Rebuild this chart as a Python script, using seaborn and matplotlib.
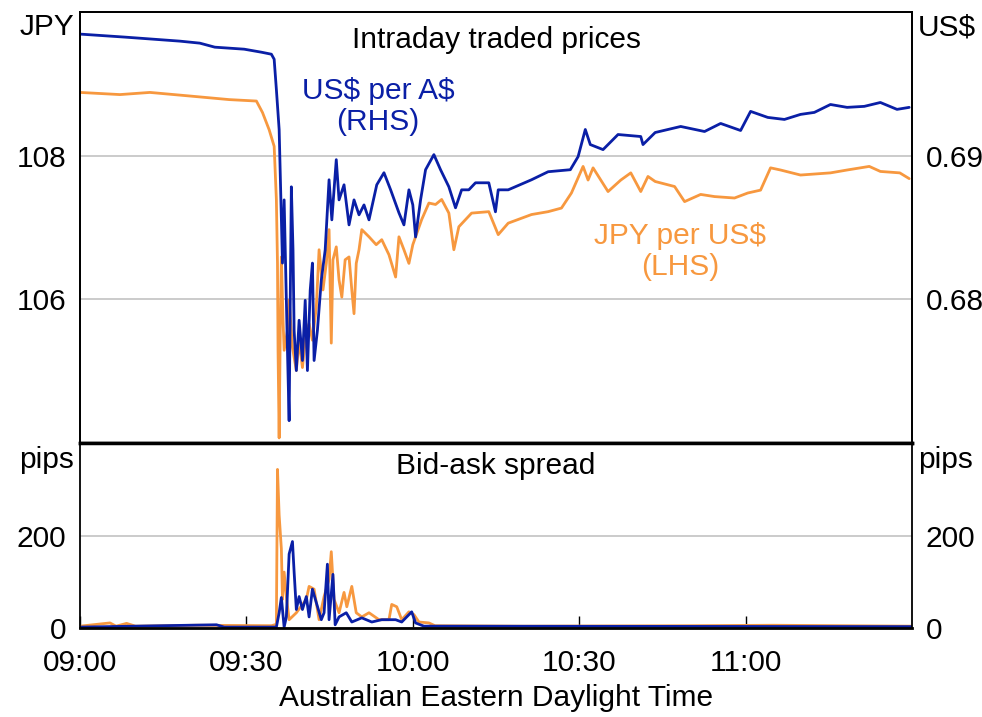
import numpy as np
import pandas as pd
import matplotlib
matplotlib.use("Agg")
import matplotlib.pyplot as plt
import seaborn as sns

# minutes after 09:00 AEDT
aud_t = [0, 8.1, 18.0, 21.6, 24.3, 29.6, 32.7, 34.5, 35.0, 35.4, 35.9, 36.5, 36.8, 37.2,
         37.4, 37.7, 37.9, 38.1, 38.4, 38.6, 39.0, 39.5, 40.1, 40.6, 41.0, 41.5, 41.9,
         42.2, 42.8, 43.5, 44.2, 44.9, 45.4, 46.2, 46.7, 47.6, 48.5, 49.4, 50.3, 51.2,
         52.1, 53.5, 54.8, 56.0, 57.5, 58.4, 59.3, 60.0, 60.5, 61.4, 62.3, 63.8, 65.0,
         66.5, 67.7, 68.8, 70.1, 71.3, 73.7, 74.9, 75.4, 77.2, 81.4, 84.4, 88.4, 89.8,
         91.1, 92.0, 94.3, 97.0, 101.1, 101.5, 103.7, 108.3, 112.6, 115.5, 119.1, 120.9,
         124.0, 127.0, 129.9, 132.4, 135.3, 138.3, 141.4, 144.3, 147.3, 149.5]
aud_usd = [0.69846, 0.69825, 0.69797, 0.69783, 0.69755, 0.69741, 0.69720, 0.69706, 0.69671,
           0.69461, 0.69182, 0.68252, 0.68692, 0.67993, 0.67644, 0.67155, 0.67993, 0.68783,
           0.68343, 0.67784, 0.67504, 0.67854, 0.67574, 0.67993, 0.67504, 0.68063, 0.68252,
           0.67574, 0.67784, 0.68133, 0.68343, 0.68832, 0.68553, 0.68972, 0.68692, 0.68797,
           0.68518, 0.68692, 0.68588, 0.68657, 0.68553, 0.68797, 0.68881, 0.68762, 0.68602,
           0.68518, 0.68762, 0.68657, 0.68434, 0.68692, 0.68902, 0.69007, 0.68902, 0.68783,
           0.68637, 0.68762, 0.68762, 0.68811, 0.68811, 0.68609, 0.68762, 0.68762, 0.68832,
           0.68888, 0.68902, 0.68993, 0.69182, 0.69077, 0.69042, 0.69147, 0.69133, 0.69077,
           0.69161, 0.69203, 0.69168, 0.69224, 0.69175, 0.69308, 0.69266, 0.69252, 0.69287,
           0.69301, 0.69356, 0.69336, 0.69343, 0.69370, 0.69322, 0.69336]

jpy_t = [0, 7.2, 12.6, 19.8, 26.9, 31.8, 32.9, 34.1, 35.0, 35.4, 35.6, 35.7, 35.9, 36.1,
         36.3, 36.6, 36.8, 37.4, 37.7, 38.3, 39.0, 39.5, 40.1, 40.8, 41.3, 41.9, 42.6,
         43.1, 43.8, 44.4, 44.9, 45.3, 45.6, 46.2, 46.7, 47.2, 47.8, 48.5, 49.0, 49.4,
         49.8, 50.3, 50.8, 52.1, 53.4, 54.4, 55.7, 56.9, 57.5, 58.4, 59.3, 60.0, 60.5,
         61.6, 62.9, 64.1, 65.2, 66.5, 67.4, 68.3, 70.6, 73.7, 75.4, 77.2, 81.4, 84.4,
         86.8, 88.6, 90.7, 91.6, 92.5, 95.2, 97.5, 99.3, 101.1, 102.4, 103.7, 107.2,
         109.0, 111.9, 114.4, 118.0, 120.4, 122.7, 124.5, 126.3, 129.9, 135.3, 138.3,
         142.3, 144.3, 147.8, 149.5]
usd_jpy = [108.88, 108.85, 108.88, 108.83, 108.78, 108.76, 108.60, 108.36, 108.13, 107.39,
           106.50, 105.29, 104.07, 105.57, 106.59, 105.71, 105.29, 105.57, 105.99, 105.33,
           105.01, 105.43, 105.05, 105.57, 105.66, 105.43, 105.89, 106.69, 106.13, 106.50,
           106.97, 105.39, 106.55, 106.73, 106.27, 106.03, 106.55, 106.59, 106.13, 105.80,
           106.50, 106.69, 106.97, 106.87, 106.76, 106.83, 106.62, 106.31, 106.87, 106.69,
           106.50, 106.76, 106.87, 107.11, 107.34, 107.32, 107.39, 107.20, 106.69, 107.01,
           107.20, 107.22, 106.90, 107.06, 107.18, 107.22, 107.27, 107.48, 107.85, 107.66,
           107.83, 107.50, 107.66, 107.76, 107.50, 107.71, 107.64, 107.57, 107.36, 107.46,
           107.43, 107.41, 107.48, 107.52, 107.83, 107.80, 107.73, 107.76, 107.80, 107.85,
           107.78, 107.76, 107.68]

jpy_spread_t = [0, 5.4, 6.5, 8.4, 10, 21, 34.5, 35.4, 35.6, 35.9, 36.3, 36.5, 36.8, 37.2,
                37.7, 39.0, 40.8, 41.3, 42.2, 43.1, 44.0, 44.9, 45.3, 45.8, 46.7, 47.6,
                48.1, 49.0, 49.8, 50.8, 52.1, 53.9, 55.7, 56.2, 57.1, 58.0, 59.3, 60.2,
                61.1, 62.9, 64, 80, 110, 125, 150]
jpy_spread = [4, 11, 4, 10, 4, 6, 5, 8, 343, 244, 171, 62, 121, 68, 18, 33, 62, 90, 84, 18,
              68, 105, 165, 62, 33, 77, 46, 90, 33, 24, 33, 18, 18, 51, 46, 18, 35, 29, 13,
              11, 5, 4, 5, 6, 4]

aud_spread_t = [0, 24.6, 26, 35.4, 35.9, 36.3, 36.8, 37.2, 37.7, 38.3, 38.6, 39.0, 39.5,
                40.1, 40.8, 41.3, 41.9, 42.6, 43.5, 44.0, 44.6, 44.9, 45.6, 46.0, 46.7,
                48.0, 49.0, 50.8, 52.6, 54.4, 56.9, 58.0, 59.8, 60.5, 62, 150]
aud_spread = [2, 7, 2, 2, 33, 66, 2, 24, 160, 187, 121, 40, 68, 40, 68, 24, 84, 55, 18, 33,
              138, 18, 116, 7, 24, 33, 13, 22, 13, 18, 18, 13, 35, 11, 4, 3]

x_ticks = [0, 30, 60, 90, 120]
x_labels = ["09:00", "09:30", "10:00", "10:30", "11:00"]

BLUE = "#0A1FA6"
ORANGE = "#F7983F"

sns.set_theme(style="white")
plt.rcParams["font.family"] = ["Liberation Sans", "DejaVu Sans"]
plt.rcParams.update({
    "font.size": 21.5,
    "xtick.labelsize": 21.5,
    "ytick.labelsize": 21.5,
    "text.color": "black",
    "xtick.color": "black",
    "ytick.color": "black",
    "xtick.labelcolor": "black",
    "ytick.labelcolor": "black",
})

fig = plt.figure(figsize=(9.82, 7.17), dpi=100)
ax_top = fig.add_axes([0.0815, 0.3822, 0.8472, 0.6011])
ax_bot = fig.add_axes([0.0815, 0.1241, 0.8472, 0.2580])
ax_rhs = ax_top.twinx()

# top panel
sns.lineplot(x=jpy_t, y=usd_jpy, ax=ax_top, color=ORANGE, linewidth=2.0,
             estimator=None, sort=False)
sns.lineplot(x=aud_t, y=aud_usd, ax=ax_rhs, color=BLUE, linewidth=2.0,
             estimator=None, sort=False)
ax_top.set_ylim(104, 110)
ax_rhs.set_ylim(0.67, 0.70)
ax_top.set_yticks([106, 108])
ax_rhs.set_yticks([0.68, 0.69])
ax_rhs.set_yticklabels(["0.68", "0.69"])
ax_top.yaxis.grid(True, color="#bdbdbd", linewidth=1.1)
ax_top.set_xticks([])

# bottom panel
sns.lineplot(x=jpy_spread_t, y=jpy_spread, ax=ax_bot, color=ORANGE, linewidth=2.0,
             estimator=None, sort=False)
sns.lineplot(x=aud_spread_t, y=aud_spread, ax=ax_bot, color=BLUE, linewidth=2.0,
             estimator=None, sort=False)
ax_bot.set_ylim(0, 400)
ax_bot.set_yticks([0, 200])
ax_bot.yaxis.grid(True, color="#bdbdbd", linewidth=1.1)
ax_bot.set_xticks(x_ticks)
ax_bot.set_xticklabels(x_labels)
ax_bot.tick_params(axis="x", direction="in", length=8.5, width=1, color="black",
                   bottom=True, pad=15)
ax_bot.tick_params(axis="y", left=False, right=False, labelleft=True, labelright=True,
                   pad=4)

for ax in (ax_top, ax_bot, ax_rhs):
    ax.set_xlim(0, 150)
    ax.set_xlabel("")
    ax.set_ylabel("")
    for s in ax.spines.values():
        s.set_color("black")
        s.set_linewidth(1.3)
ax_top.tick_params(axis="y", left=False, pad=4)
ax_rhs.tick_params(axis="y", right=False, pad=4)
ax_top.spines["bottom"].set_linewidth(2.5)
ax_bot.spines["top"].set_linewidth(2.5)
ax_bot.spines["bottom"].set_linewidth(2)

# text
ax_top.text(0.5, 0.935, "Intraday traded prices", transform=ax_top.transAxes,
            ha="center", va="center")
ax_bot.text(0.5, 0.876, "Bid-ask spread", transform=ax_bot.transAxes,
            ha="center", va="center")
ax_top.text(0.358, 0.78, "US\\$ per A\\$\n(RHS)", transform=ax_top.transAxes,
            ha="center", va="center", color=BLUE, linespacing=1.15)
ax_top.text(0.721, 0.445, "JPY per US\\$\n(LHS)", transform=ax_top.transAxes,
            ha="center", va="center", color=ORANGE, linespacing=1.15)

fig.text(0.0754, 0.962, "JPY", ha="right", va="center")
fig.text(0.935, 0.962, "US\\$", ha="left", va="center")
fig.text(0.0754, 0.358, "pips", ha="right", va="center")
fig.text(0.935, 0.358, "pips", ha="left", va="center")
fig.text(0.505, 0.0265, "Australian Eastern Daylight Time", ha="center", va="center")

fig.savefig("out.png", dpi=100)
